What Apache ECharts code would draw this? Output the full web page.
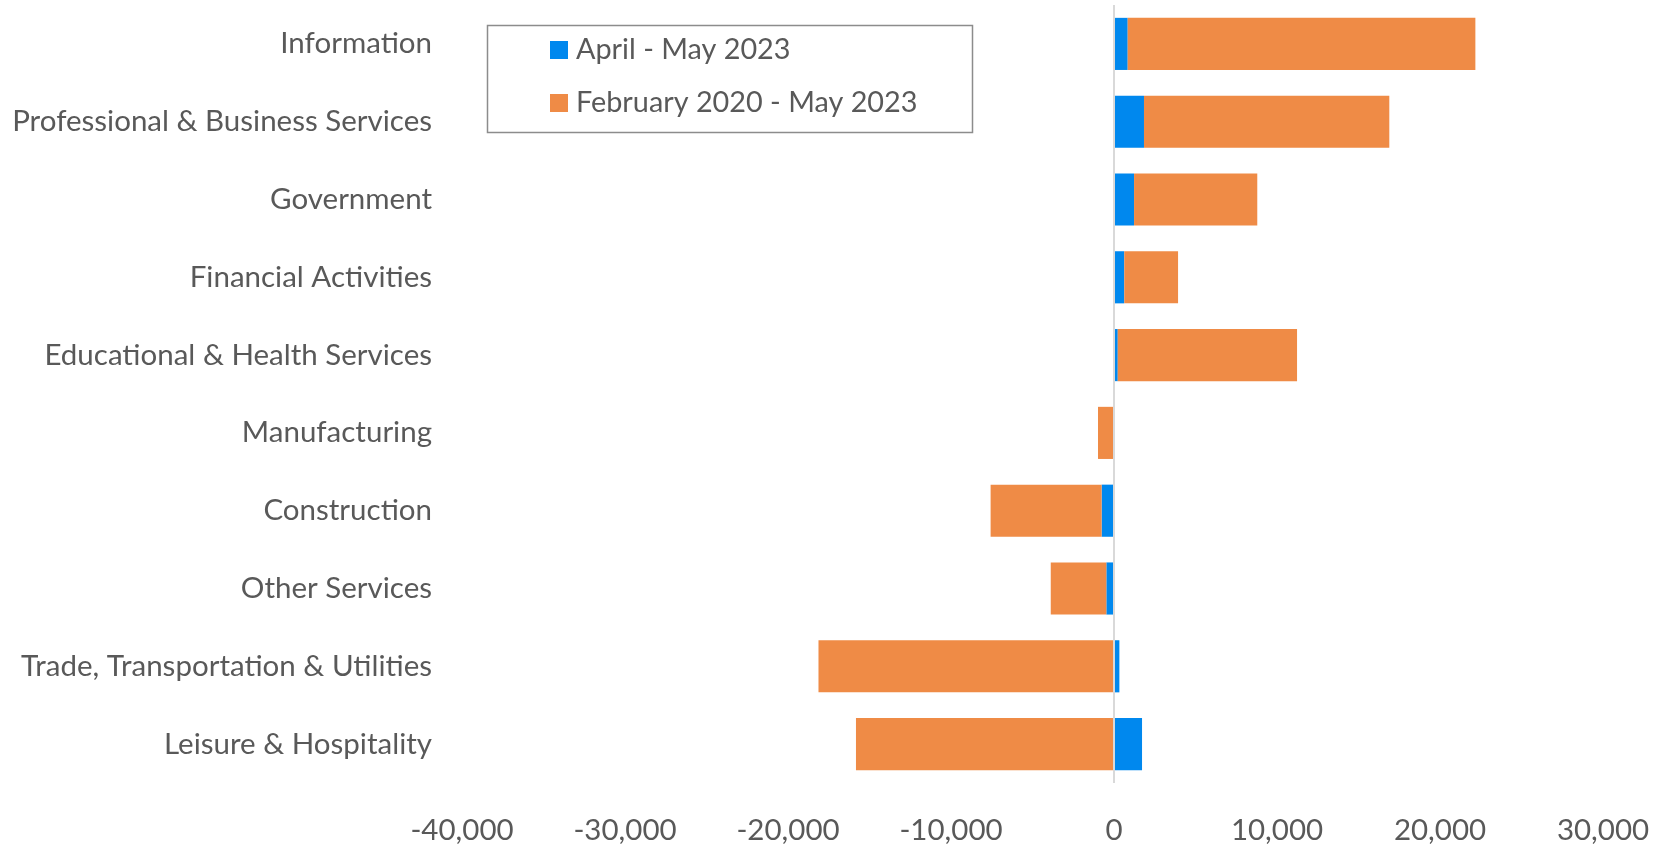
<!DOCTYPE html>
<html>
<head>
<meta charset="utf-8">
<script src="https://cdn.jsdelivr.net/npm/echarts@6/dist/echarts.min.js"></script>
<style>
  html, body { margin: 0; padding: 0; background: #fff; }
  #chart { width: 1666px; height: 845px; }
</style>
</head>
<body>
<div id="chart"></div>
<script>
// categories, top to bottom
const categories = [
  "Information",
  "Professional & Business Services",
  "Government",
  "Financial Activities",
  "Educational & Health Services",
  "Manufacturing",
  "Construction",
  "Other Services",
  "Trade, Transportation & Utilities",
  "Leisure & Hospitality",
];
const seriesNames = ["April - May 2023", "February 2020 - May 2023"];
// blue segment
const aprMay = [840, 1840, 1230, 630, 230, -40, -760, -470, 330, 1720];
// orange segment (stacked after blue)
const febMay = [21330, 15050, 7560, 3300, 11000, -940, -6810, -3410, -18130, -15830];
const xTicks = { min: -40000, max: 30000, interval: 10000 };

const font = "Lato";
const fontSize = 29.5;
const textColor = "#595959";

let mychart = echarts.init(document.getElementById("chart"));
mychart.setOption({
  animation: false,
  textStyle: { fontFamily: font },
  grid: { left: 462, right: 63, top: 5, height: 783, containLabel: false },
  legend: {
    orient: "vertical",
    left: 545,
    top: 30,
    itemWidth: 18,
    itemHeight: 18,
    itemGap: 23,
    icon: "rect",
    textStyle: {
      fontFamily: font,
      fontSize: 28.8,
      color: textColor,
      lineHeight: 30,
      padding: [0, 0, 0, 3],
    },
    data: seriesNames,
  },
  graphic: [
    {
      type: "rect",
      left: 485,
      top: 23,
      shape: { width: 485, height: 107 },
      style: { fill: "none", stroke: "#8c8c8c", lineWidth: 1.5 },
      silent: true,
    },
  ],
  xAxis: {
    type: "value",
    min: xTicks.min,
    max: xTicks.max,
    interval: xTicks.interval,
    axisLine: { show: false },
    axisTick: { show: false },
    splitLine: { show: false },
    axisLabel: {
      fontFamily: font,
      fontSize: fontSize,
      color: textColor,
      margin: 32,
      formatter: (v) => v.toLocaleString("en-US"),
    },
  },
  yAxis: {
    type: "category",
    inverse: true,
    data: categories,
    axisLine: { show: false },
    axisTick: { show: false },
    axisLabel: { fontFamily: font, fontSize: fontSize, color: textColor, margin: 30 },
  },
  series: [
    {
      name: seriesNames[0],
      type: "bar",
      stack: "total",
      barCategoryGap: "33%",
      itemStyle: { color: "#0088ee" },
      data: aprMay,
      markLine: {
        silent: true,
        symbol: "none",
        label: { show: false },
        lineStyle: { color: "#d9d9d9", width: 2, type: "solid" },
        data: [{ xAxis: 0 }],
      },
    },
    {
      name: seriesNames[1],
      type: "bar",
      stack: "total",
      barCategoryGap: "33%",
      itemStyle: { color: "#ef8b46" },
      data: febMay,
    },
  ],
});
</script>
</body>
</html>
